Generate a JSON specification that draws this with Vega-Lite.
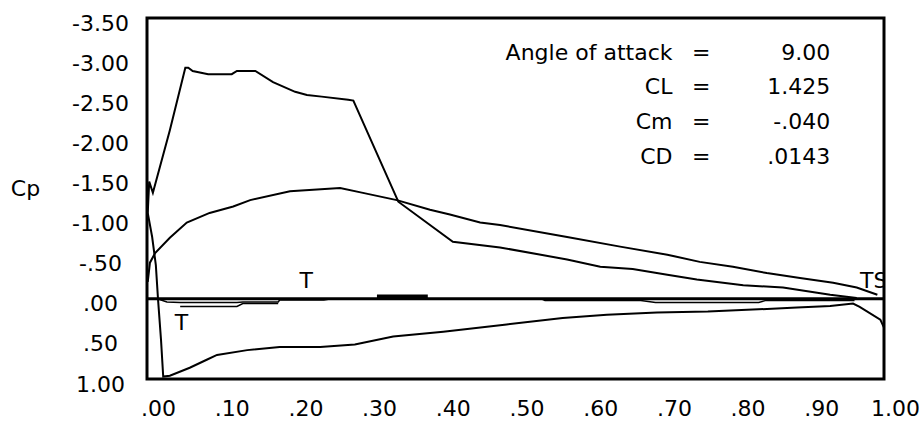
{
  "$schema": "https://vega.github.io/schema/vega-lite/v6.json",
  "width": 737,
  "height": 361,
  "autosize": "none",
  "padding": {"left": 147, "top": 18, "right": 39, "bottom": 44},
  "background": "white",
  "config": {
    "view": {"stroke": "black", "strokeWidth": 3},
    "font": "DejaVu Sans",
    "text": {"font": "DejaVu Sans", "fontSize": 22, "color": "black"}
  },
  "datasets": {
    "curves": [
      {"curve": "A", "i": 1, "x": 0.963, "cp": -0.01},
      {"curve": "A", "i": 2, "x": 0.927, "cp": -0.05},
      {"curve": "A", "i": 3, "x": 0.863, "cp": -0.14},
      {"curve": "A", "i": 4, "x": 0.809, "cp": -0.17},
      {"curve": "A", "i": 5, "x": 0.746, "cp": -0.24},
      {"curve": "A", "i": 6, "x": 0.706, "cp": -0.30},
      {"curve": "A", "i": 7, "x": 0.659, "cp": -0.37},
      {"curve": "A", "i": 8, "x": 0.615, "cp": -0.40},
      {"curve": "A", "i": 9, "x": 0.570, "cp": -0.49},
      {"curve": "A", "i": 10, "x": 0.479, "cp": -0.64},
      {"curve": "A", "i": 11, "x": 0.415, "cp": -0.71},
      {"curve": "A", "i": 12, "x": 0.341, "cp": -1.21},
      {"curve": "A", "i": 13, "x": 0.280, "cp": -2.47},
      {"curve": "A", "i": 14, "x": 0.273, "cp": -2.48},
      {"curve": "A", "i": 15, "x": 0.237, "cp": -2.52},
      {"curve": "A", "i": 16, "x": 0.217, "cp": -2.54},
      {"curve": "A", "i": 17, "x": 0.201, "cp": -2.58},
      {"curve": "A", "i": 18, "x": 0.171, "cp": -2.70},
      {"curve": "A", "i": 19, "x": 0.147, "cp": -2.84},
      {"curve": "A", "i": 20, "x": 0.122, "cp": -2.84},
      {"curve": "A", "i": 21, "x": 0.115, "cp": -2.80},
      {"curve": "A", "i": 22, "x": 0.083, "cp": -2.80},
      {"curve": "A", "i": 23, "x": 0.062, "cp": -2.84},
      {"curve": "A", "i": 24, "x": 0.056, "cp": -2.88},
      {"curve": "A", "i": 25, "x": 0.052, "cp": -2.88},
      {"curve": "A", "i": 26, "x": 0.031, "cp": -2.10},
      {"curve": "A", "i": 27, "x": 0.008, "cp": -1.32},
      {"curve": "A", "i": 28, "x": 0.003, "cp": -1.46},
      {"curve": "A", "i": 29, "x": 0.001, "cp": -1.07},
      {"curve": "A", "i": 30, "x": 0.007, "cp": -0.77},
      {"curve": "A", "i": 31, "x": 0.012, "cp": -0.42},
      {"curve": "A", "i": 32, "x": 0.015, "cp": 0.01},
      {"curve": "A", "i": 33, "x": 0.019, "cp": 0.51},
      {"curve": "A", "i": 34, "x": 0.022, "cp": 0.97},
      {"curve": "A", "i": 35, "x": 0.031, "cp": 0.96},
      {"curve": "A", "i": 36, "x": 0.058, "cp": 0.86},
      {"curve": "A", "i": 37, "x": 0.081, "cp": 0.76},
      {"curve": "A", "i": 38, "x": 0.095, "cp": 0.70},
      {"curve": "A", "i": 39, "x": 0.136, "cp": 0.64},
      {"curve": "A", "i": 40, "x": 0.180, "cp": 0.60},
      {"curve": "A", "i": 41, "x": 0.235, "cp": 0.60},
      {"curve": "A", "i": 42, "x": 0.282, "cp": 0.57},
      {"curve": "A", "i": 43, "x": 0.334, "cp": 0.47},
      {"curve": "A", "i": 44, "x": 0.402, "cp": 0.41},
      {"curve": "A", "i": 45, "x": 0.488, "cp": 0.32},
      {"curve": "A", "i": 46, "x": 0.564, "cp": 0.24},
      {"curve": "A", "i": 47, "x": 0.624, "cp": 0.20},
      {"curve": "A", "i": 48, "x": 0.692, "cp": 0.17},
      {"curve": "A", "i": 49, "x": 0.761, "cp": 0.16},
      {"curve": "A", "i": 50, "x": 0.882, "cp": 0.11},
      {"curve": "A", "i": 51, "x": 0.927, "cp": 0.09},
      {"curve": "A", "i": 52, "x": 0.958, "cp": 0.06},
      {"curve": "A", "i": 53, "x": 0.967, "cp": 0.10},
      {"curve": "A", "i": 54, "x": 0.995, "cp": 0.26},
      {"curve": "A", "i": 55, "x": 1.0, "cp": 0.36},
      {"curve": "B", "i": 1, "x": 0.001, "cp": -0.21},
      {"curve": "B", "i": 2, "x": 0.004, "cp": -0.45},
      {"curve": "B", "i": 3, "x": 0.011, "cp": -0.57},
      {"curve": "B", "i": 4, "x": 0.031, "cp": -0.76},
      {"curve": "B", "i": 5, "x": 0.054, "cp": -0.95},
      {"curve": "B", "i": 6, "x": 0.085, "cp": -1.07},
      {"curve": "B", "i": 7, "x": 0.117, "cp": -1.15},
      {"curve": "B", "i": 8, "x": 0.140, "cp": -1.23},
      {"curve": "B", "i": 9, "x": 0.194, "cp": -1.34},
      {"curve": "B", "i": 10, "x": 0.262, "cp": -1.38},
      {"curve": "B", "i": 11, "x": 0.293, "cp": -1.32},
      {"curve": "B", "i": 12, "x": 0.339, "cp": -1.23},
      {"curve": "B", "i": 13, "x": 0.384, "cp": -1.11},
      {"curve": "B", "i": 14, "x": 0.411, "cp": -1.05},
      {"curve": "B", "i": 15, "x": 0.452, "cp": -0.95},
      {"curve": "B", "i": 16, "x": 0.479, "cp": -0.92},
      {"curve": "B", "i": 17, "x": 0.570, "cp": -0.77},
      {"curve": "B", "i": 18, "x": 0.642, "cp": -0.65},
      {"curve": "B", "i": 19, "x": 0.706, "cp": -0.55},
      {"curve": "B", "i": 20, "x": 0.750, "cp": -0.46},
      {"curve": "B", "i": 21, "x": 0.795, "cp": -0.40},
      {"curve": "B", "i": 22, "x": 0.841, "cp": -0.32},
      {"curve": "B", "i": 23, "x": 0.886, "cp": -0.26},
      {"curve": "B", "i": 24, "x": 0.931, "cp": -0.20},
      {"curve": "B", "i": 25, "x": 0.963, "cp": -0.14},
      {"curve": "B", "i": 26, "x": 0.991, "cp": -0.05},
      {"curve": "C", "i": 1, "x": 0.014, "cp": 0.0},
      {"curve": "C", "i": 2, "x": 0.027, "cp": 0.04},
      {"curve": "C", "i": 3, "x": 0.045, "cp": 0.045},
      {"curve": "C", "i": 4, "x": 0.122, "cp": 0.045},
      {"curve": "C", "i": 5, "x": 0.13, "cp": 0.04},
      {"curve": "C", "i": 6, "x": 0.178, "cp": 0.04},
      {"curve": "C", "i": 7, "x": 0.18, "cp": 0.015},
      {"curve": "C", "i": 8, "x": 0.24, "cp": 0.015},
      {"curve": "C", "i": 9, "x": 0.25, "cp": 0.0},
      {"curve": "C", "i": 10, "x": 0.535, "cp": 0.0},
      {"curve": "C", "i": 11, "x": 0.54, "cp": 0.02},
      {"curve": "C", "i": 12, "x": 0.67, "cp": 0.02},
      {"curve": "C", "i": 13, "x": 0.69, "cp": 0.045},
      {"curve": "C", "i": 14, "x": 0.83, "cp": 0.045},
      {"curve": "C", "i": 15, "x": 0.84, "cp": 0.02},
      {"curve": "C", "i": 16, "x": 0.96, "cp": 0.02},
      {"curve": "D", "i": 1, "x": 0.045, "cp": 0.095},
      {"curve": "D", "i": 2, "x": 0.122, "cp": 0.095},
      {"curve": "D", "i": 3, "x": 0.13, "cp": 0.06},
      {"curve": "D", "i": 4, "x": 0.178, "cp": 0.06},
      {"curve": "E", "i": 1, "x": 0.312, "cp": -0.03},
      {"curve": "E", "i": 2, "x": 0.381, "cp": -0.03}
    ],
    "zeroline": [
      {"cp": 0}
    ],
    "notes": [
      {"name": "Angle of attack", "val": "9.00", "cp": -3.088},
      {"name": "CL", "val": "1.425", "cp": -2.653},
      {"name": "Cm", "val": "-.040", "cp": -2.217},
      {"name": "CD", "val": ".0143", "cp": -1.781}
    ],
    "tags": [
      {"lab": "T", "x": 0.216, "cp": -0.137},
      {"lab": "T", "x": 0.0468, "cp": 0.386},
      {"lab": "TS", "x": 0.986, "cp": -0.137}
    ]
  },
  "encoding": {
    "x": {
      "type": "quantitative",
      "scale": {"domain": [0, 1], "nice": false, "zero": false},
      "axis": {
        "values": [0, 0.1, 0.2, 0.3, 0.4, 0.5, 0.6, 0.7, 0.8, 0.9, 1],
        "labelExpr": "(datum.value < 0 ? '-' : '') + (abs(datum.value) < 1 ? substring(format(abs(datum.value), '.2f'), 1) : format(abs(datum.value), '.2f'))",
        "domain": false, "ticks": false, "grid": false, "title": null,
        "labelFont": "DejaVu Sans", "labelFontSize": 22, "labelColor": "black",
        "labelPadding": 19, "labelOffset": 11, "labelBaseline": "top", "labelAlign": "center",
        "labelFlush": false, "labelOverlap": false
      }
    },
    "y": {
      "type": "quantitative",
      "scale": {"domain": [-3.5, 1], "reverse": true, "nice": false, "zero": false},
      "axis": {
        "values": [-3.5, -3, -2.5, -2, -1.5, -1, -0.5, 0, 0.5, 1],
        "labelExpr": "(datum.value < 0 ? '-' : '') + (abs(datum.value) < 1 ? substring(format(abs(datum.value), '.2f'), 1) : format(abs(datum.value), '.2f'))",
        "domain": false, "ticks": false, "grid": false,
        "title": "Cp", "titleAngle": 0, "titleX": -122, "titleY": 177,
        "titleAlign": "center", "titleBaseline": "alphabetic",
        "titleFont": "DejaVu Sans", "titleFontSize": 22, "titleFontWeight": "normal", "titleColor": "black",
        "labelFont": "DejaVu Sans", "labelFontSize": 22, "labelColor": "black",
        "labelAlign": "center", "labelBaseline": "middle", "labelPadding": 47, "labelOffset": 5,
        "labelFlush": false, "labelOverlap": false
      }
    }
  },
  "layer": [
    {
      "data": {"name": "curves"},
      "transform": [{"filter": "datum.curve == 'A' || datum.curve == 'B'"}],
      "mark": {"type": "line", "color": "black", "strokeWidth": 2, "clip": true},
      "encoding": {
        "x": {"field": "x", "type": "quantitative"},
        "y": {"field": "cp", "type": "quantitative"},
        "detail": {"field": "curve"},
        "order": {"field": "i", "type": "quantitative"}
      }
    },
    {
      "data": {"name": "curves"},
      "transform": [{"filter": "datum.curve == 'C' || datum.curve == 'D'"}],
      "mark": {"type": "line", "color": "black", "strokeWidth": 1.5, "clip": true},
      "encoding": {
        "x": {"field": "x", "type": "quantitative"},
        "y": {"field": "cp", "type": "quantitative"},
        "detail": {"field": "curve"},
        "order": {"field": "i", "type": "quantitative"}
      }
    },
    {
      "data": {"name": "curves"},
      "transform": [{"filter": "datum.curve == 'E'"}],
      "mark": {"type": "line", "color": "black", "strokeWidth": 3.5, "clip": true},
      "encoding": {
        "x": {"field": "x", "type": "quantitative"},
        "y": {"field": "cp", "type": "quantitative"},
        "detail": {"field": "curve"},
        "order": {"field": "i", "type": "quantitative"}
      }
    },
    {
      "data": {"name": "zeroline"},
      "mark": {"type": "rule", "color": "black", "strokeWidth": 3},
      "encoding": {"y": {"field": "cp", "type": "quantitative"}}
    },
    {
      "mark": {"type": "rule", "color": "black", "strokeWidth": 6, "strokeCap": "square"},
      "encoding": {"x": {"datum": 1}}
    },
    {
      "mark": {"type": "rule", "color": "black", "strokeWidth": 6, "strokeCap": "square"},
      "encoding": {"y": {"datum": 1}}
    },
    {
      "data": {"name": "notes"},
      "mark": {"type": "text", "align": "right", "baseline": "middle", "dy": 1.5, "fontSize": 22},
      "encoding": {
        "x": {"datum": 0.713},
        "y": {"field": "cp", "type": "quantitative"},
        "text": {"field": "name"}
      }
    },
    {
      "data": {"name": "notes"},
      "mark": {"type": "text", "align": "center", "baseline": "middle", "dy": 1.5, "fontSize": 22, "text": "="},
      "encoding": {
        "x": {"datum": 0.752},
        "y": {"field": "cp", "type": "quantitative"}
      }
    },
    {
      "data": {"name": "notes"},
      "mark": {"type": "text", "align": "right", "baseline": "middle", "dy": 1.5, "fontSize": 22},
      "encoding": {
        "x": {"datum": 0.927},
        "y": {"field": "cp", "type": "quantitative"},
        "text": {"field": "val"}
      }
    },
    {
      "data": {"name": "tags"},
      "mark": {"type": "text", "align": "center", "baseline": "alphabetic", "fontSize": 22, "clip": true},
      "encoding": {
        "x": {"field": "x", "type": "quantitative"},
        "y": {"field": "cp", "type": "quantitative"},
        "text": {"field": "lab"}
      }
    }
  ]
}
